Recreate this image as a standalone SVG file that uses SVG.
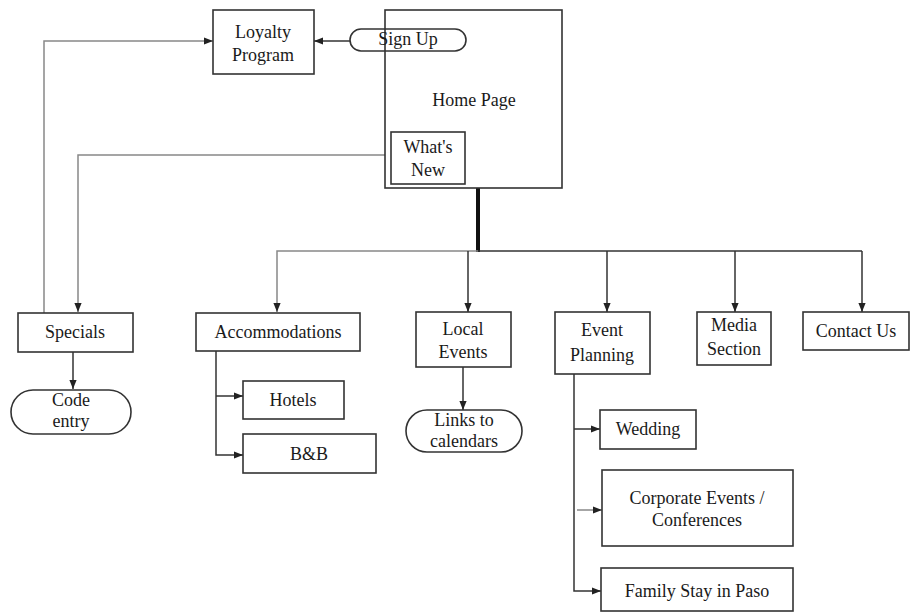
<svg xmlns="http://www.w3.org/2000/svg" width="911" height="614" viewBox="0 0 911 614">
<defs>
<marker id="ah" viewBox="0 0 10 10" refX="10" refY="5" markerWidth="9" markerHeight="9" markerUnits="userSpaceOnUse" orient="auto">
<path d="M0,1 L10,5 L0,9 Z" fill="#222"/>
</marker>
</defs>
<style>
.box{fill:#fff;stroke:#333;stroke-width:1.6}
.pill{fill:none;stroke:#333;stroke-width:1.6}
.t{font-family:"Liberation Serif","Times New Roman",serif;font-size:18px;fill:#1a1a1a;text-anchor:middle}
.c{fill:none;stroke:#333;stroke-width:1.5}
.g{fill:none;stroke:#888;stroke-width:1.5}
.thick{fill:none;stroke:#111;stroke-width:4}
</style>
<rect width="911" height="614" fill="#fff"/>
<g id="connectors">
<path class="g" d="M44,313 V41 H213" marker-end="url(#ah)"/>
<path class="c" d="M350,41 H314" marker-end="url(#ah)"/>
<path class="g" d="M391,155 H78 V312" marker-end="url(#ah)"/>
<path class="c" d="M73,352 V389" marker-end="url(#ah)"/>
<path class="thick" d="M478,188 V252"/>
<path class="g" d="M478,251 H277 V312" marker-end="url(#ah)"/>
<path class="c" d="M478,251 H862"/>
<path class="c" d="M468,251 V312" marker-end="url(#ah)"/>
<path class="c" d="M607,251 V312" marker-end="url(#ah)"/>
<path class="c" d="M735,251 V312" marker-end="url(#ah)"/>
<path class="c" d="M862,251 V312" marker-end="url(#ah)"/>
<path class="c" d="M463,367 V410" marker-end="url(#ah)"/>
<path class="c" d="M216,351 V455 H243" marker-end="url(#ah)"/>
<path class="c" d="M216,396 H243" marker-end="url(#ah)"/>
<path class="c" d="M574,374 V591 H601" marker-end="url(#ah)"/>
<path class="c" d="M574,429 H600" marker-end="url(#ah)"/>
<path class="g" d="M577,510 H602" marker-end="url(#ah)"/>
</g>
<g id="loyalty"><rect class="box" x="213" y="10" width="101" height="64"/><text class="t" x="263" y="38">Loyalty</text><text class="t" x="263" y="61">Program</text></g>
<g id="home"><rect class="box" x="385" y="10" width="177" height="178"/><text class="t" x="474" y="106">Home Page</text></g>
<g id="signup"><rect class="pill" x="350" y="29" width="116" height="22" rx="11"/><text class="t" x="408" y="45">Sign Up</text></g>
<g id="whatsnew"><rect class="box" x="391" y="132" width="74" height="52"/><text class="t" x="428" y="153">What's</text><text class="t" x="428" y="176">New</text></g>
<g id="specials"><rect class="box" x="18" y="313" width="115" height="39"/><text class="t" x="75" y="338">Specials</text></g>
<g id="code"><rect class="pill" x="11" y="390" width="120" height="44" rx="22"/><text class="t" x="71" y="406">Code</text><text class="t" x="71" y="427">entry</text></g>
<g id="accommodations"><rect class="box" x="196" y="313" width="164" height="38"/><text class="t" x="278" y="338">Accommodations</text></g>
<g id="hotels"><rect class="box" x="243" y="381" width="101" height="38"/><text class="t" x="293" y="406">Hotels</text></g>
<g id="bnb"><rect class="box" x="243" y="434" width="133" height="39"/><text class="t" x="309" y="460">B&amp;B</text></g>
<g id="local"><rect class="box" x="416" y="312" width="95" height="55"/><text class="t" x="463" y="335">Local</text><text class="t" x="463" y="358">Events</text></g>
<g id="links"><rect class="pill" x="406" y="410" width="116" height="42" rx="21"/><text class="t" x="464" y="426">Links to</text><text class="t" x="464" y="447">calendars</text></g>
<g id="eventplanning"><rect class="box" x="555" y="312" width="95" height="62"/><text class="t" x="602" y="336">Event</text><text class="t" x="602" y="361">Planning</text></g>
<g id="media"><rect class="box" x="697" y="312" width="74" height="53"/><text class="t" x="734" y="331">Media</text><text class="t" x="734" y="355">Section</text></g>
<g id="contact"><rect class="box" x="803" y="312" width="106" height="38"/><text class="t" x="856" y="337">Contact Us</text></g>
<g id="wedding"><rect class="box" x="600" y="410" width="96" height="39"/><text class="t" x="648" y="435">Wedding</text></g>
<g id="corporate"><rect class="box" x="602" y="470" width="191" height="76"/><text class="t" x="697" y="504">Corporate Events /</text><text class="t" x="697" y="526">Conferences</text></g>
<g id="family"><rect class="box" x="601" y="568" width="192" height="43"/><text class="t" x="697" y="597">Family Stay in Paso</text></g>
</svg>
